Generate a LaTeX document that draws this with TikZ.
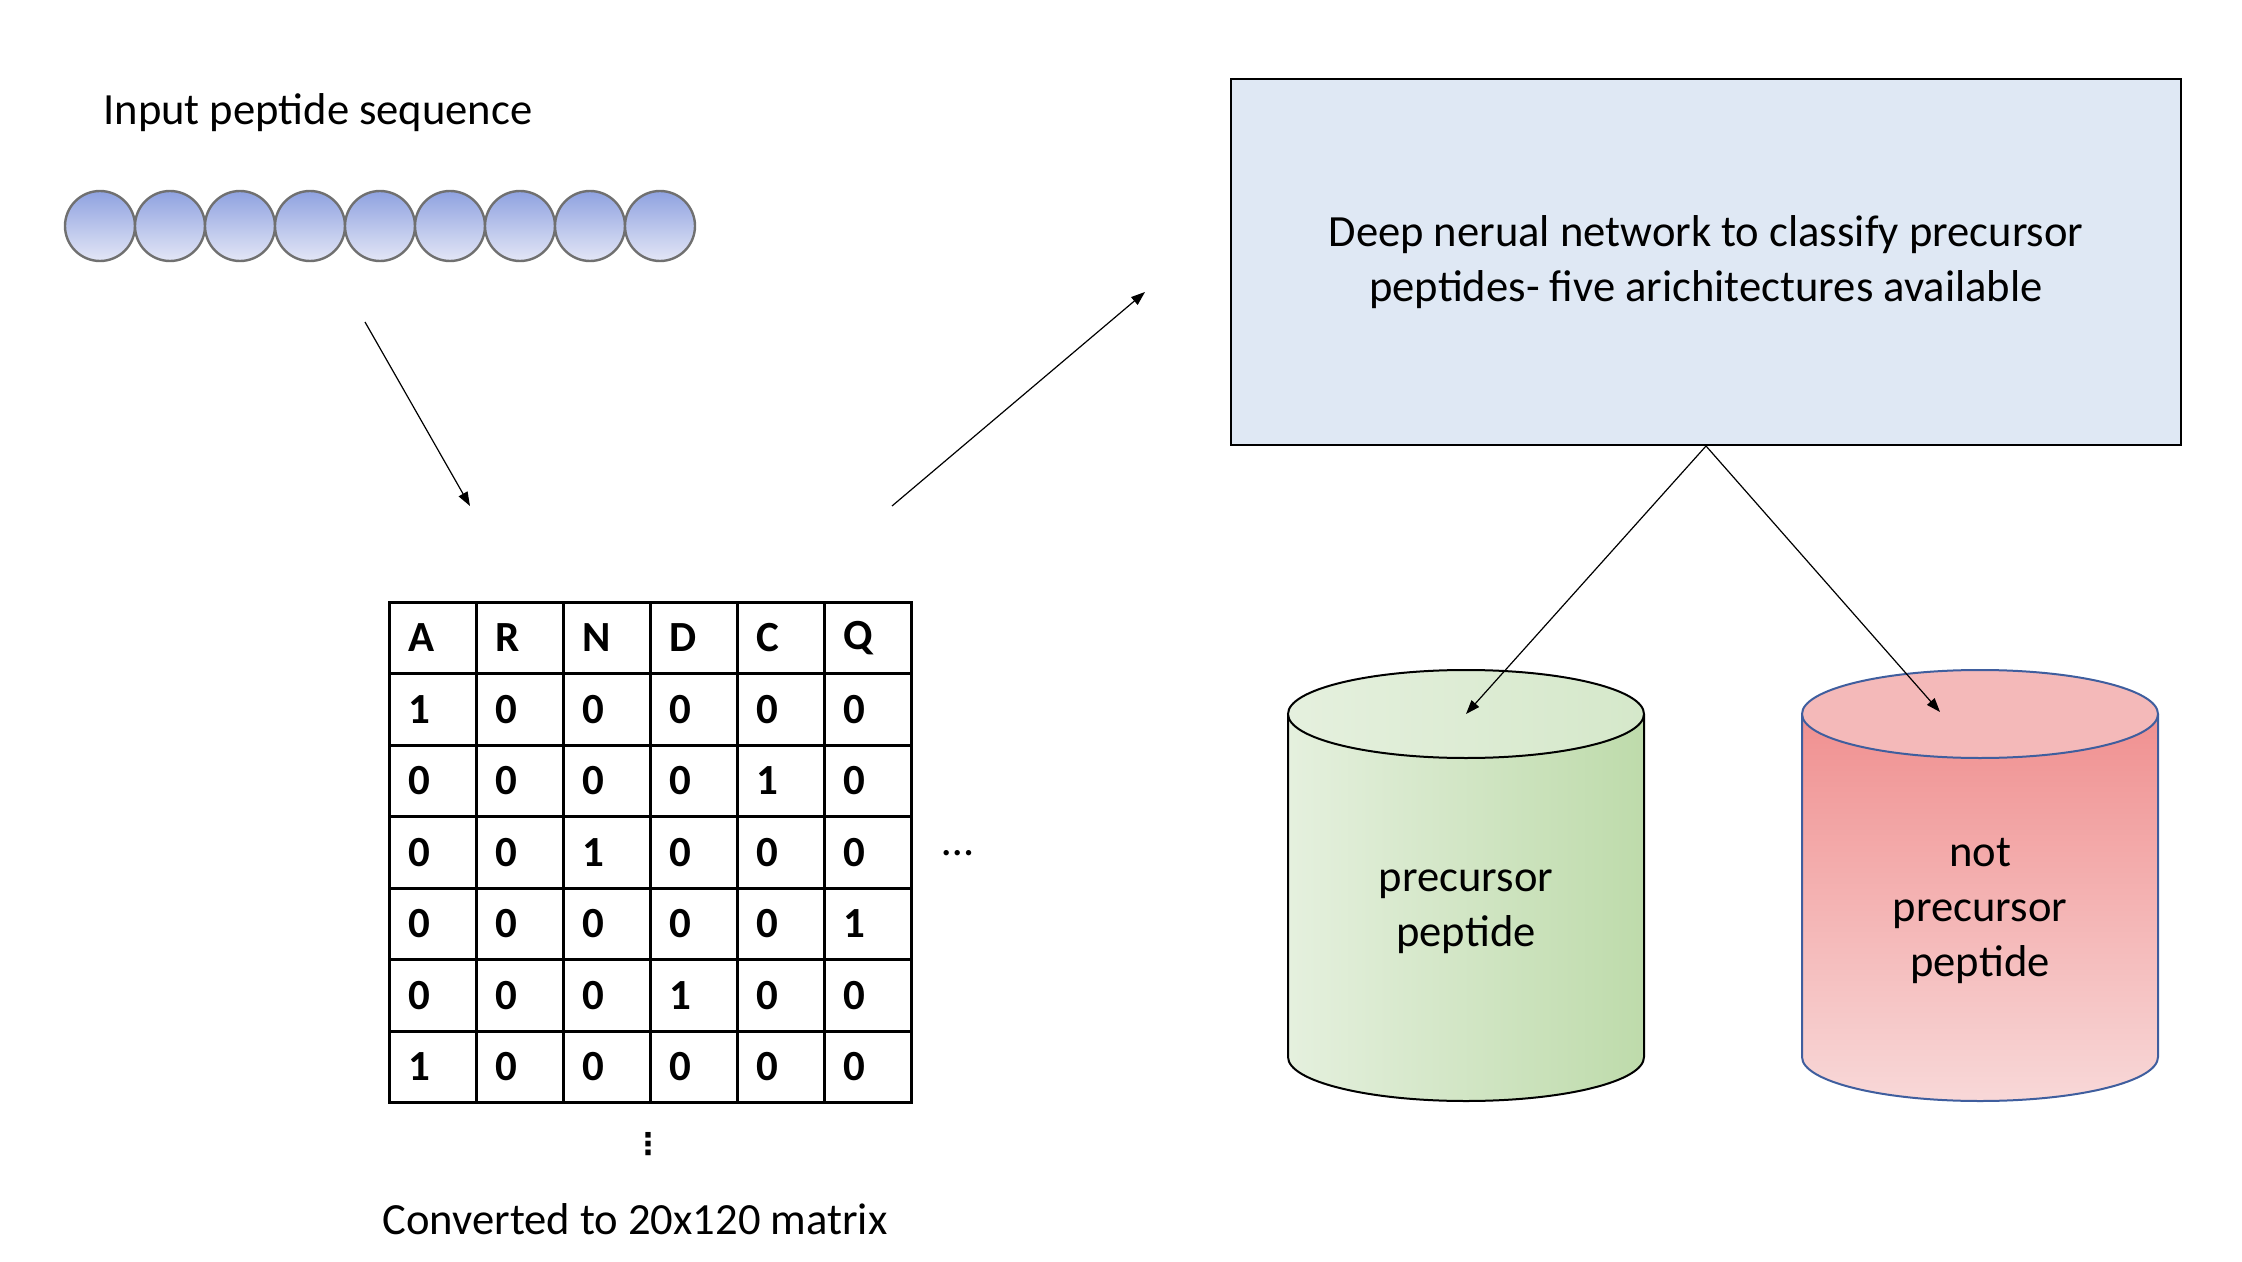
\documentclass[tikz,border=0pt]{standalone}
\usepackage{fontspec}
\setmainfont{Carlito}
\newfontfamily\symfont{DejaVu Sans}
\usetikzlibrary{arrows.meta}

\definecolor{netfill}{HTML}{DFE8F4}
\definecolor{beadtop}{HTML}{8FA2E0}
\definecolor{beadbot}{HTML}{E3E6F6}
\definecolor{beadline}{HTML}{707070}
\definecolor{posleft}{HTML}{E5F0DE}
\definecolor{posright}{HTML}{BEDBAB}
\definecolor{postopr}{HTML}{D5E8CA}
\definecolor{negtop}{HTML}{F09090}
\definecolor{negbot}{HTML}{F8D8D8}
\definecolor{negcap}{HTML}{F4B9B9}
\definecolor{negline}{HTML}{3F5E9E}

\begin{document}
\begin{tikzpicture}[x=0.5pt,y=-0.5pt,
	font=\fontsize{22.3}{27.5}\selectfont,
	flow/.style={-{Triangle[length=7pt,width=5pt]},line width=0.6pt},
	bead/.style={circle,draw=beadline,line width=1.2pt,minimum size=35pt,inner sep=0pt,top color=beadtop,bottom color=beadbot},
	cell/.style={anchor=west,inner xsep=0pt,font=\fontsize{21.5}{26}\selectfont\bfseries},
	netbox/.style={draw,line width=1pt,fill=netfill,minimum width=475pt,minimum height=183pt,align=center}]
	\def\cellw{87}
	\def\cellh{71.5}
	\def\matx{389}
	\def\maty{602}
	\def\cylrx{178}
	\def\cyltop{714}
	\def\cylbot{1057}

	\newcommand*{\drum}[4]{%
	\path[draw=#4,line width=1pt,#2] ({#1-\cylrx},\cyltop) -- ({#1-\cylrx},\cylbot)
		arc[start angle=180,end angle=360,x radius=89pt,y radius=22pt] -- ({#1+\cylrx},\cyltop);
	\path[draw=#4,line width=1pt,#3] (#1,\cyltop) ellipse[x radius=89pt,y radius=22pt];
	}

	\useasboundingbox (0,0) rectangle (2242,1262);

	% input sequence
	\node[anchor=west,inner sep=0pt] (title) at (103,113) {Input peptide sequence};
	\foreach \i in {1,...,9}
		\node[bead] (b\i) at ({100+70*(\i-1)},226) {};

	% one-hot matrix
	\draw[line width=1.5pt] (\matx,\maty) rectangle ++({6*\cellw},{7*\cellh});
	\foreach \c in {1,...,5}
		\draw[line width=1.5pt] ({\matx+\cellw*\c},\maty) -- ++(0,{7*\cellh});
	\foreach \r in {1,...,6}
		\draw[line width=1.5pt] (\matx,{\maty+\cellh*\r}) -- ++({6*\cellw},0);
	\foreach \row [count=\r from 0] in {{A,R,N,D,C,Q},{1,0,0,0,0,0},{0,0,0,0,1,0},{0,0,1,0,0,0},{0,0,0,0,0,1},{0,0,0,1,0,0},{1,0,0,0,0,0}}
		\foreach \val [count=\c from 0] in \row
			\node[cell] (m\r\c) at ({\matx+\cellw*\c+19},{\maty+\cellh*(\r+0.5)}) {\val};
	\node (hdots) at (958,853) {\dots};
	\node (vdots) at (648,1144) {\symfont\bfseries\fontsize{15}{17}\selectfont ⋮};
	\node (caption) at (635,1219) {Converted to 20x120 matrix};

	% network
	\node[netbox] (net) at (1706,262) {Deep nerual network to classify precursor\\peptides- five arichitectures available};

	% outputs
	\drum{1466}{left color=posleft,right color=posright}{left color=posleft,right color=postopr}{black}
	\drum{1980}{top color=negtop,bottom color=negbot}{fill=negcap}{negline}
	\coordinate (pos) at (1466,714);
	\coordinate (neg) at (1940,712);
	\node[align=center] (poslabel) at (1466,912) {precursor\\peptide};
	\node[align=center] (neglabel) at (1980,911) {not\\precursor\\peptide};

	% arrows
	\coordinate (seqout) at (365,322);
	\coordinate (matin) at (470,506);
	\coordinate (matout) at (892,506);
	\coordinate (netin) at (1145,292);
	\draw[flow] (seqout) -- (matin);
	\draw[flow] (matout) -- (netin);
	\draw[flow] (net.south) -- (pos);
	\draw[flow] (net.south) -- (neg);
\end{tikzpicture}
\end{document}
